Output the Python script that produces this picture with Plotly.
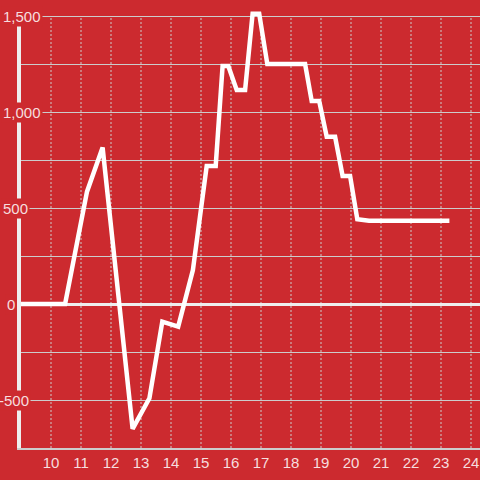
import plotly.graph_objects as go

# series
horas = [9.0, 10.47, 11.2, 11.72, 12.72, 13.28, 13.71, 14.24, 14.73, 15.19, 15.49,
         15.72, 15.91, 16.19, 16.47, 16.72, 16.94, 17.21, 18.47, 18.69, 18.94,
         19.19, 19.47, 19.72, 19.97, 20.21, 20.6, 23.28]
valores = [0, 0, 585, 815, -650, -491, -92, -118, 177, 719, 719,
           1240, 1240, 1115, 1115, 1512, 1512, 1250, 1250, 1057, 1057,
           871, 871, 667, 667, 441, 434, 434]

x_ticks = list(range(10, 25))
y_labels = [-500, 0, 500, 1000, 1500]
y_label_edge = [31, 17, 30, 43, 43]  # right edge of each label, px

VERMELHO = "#cc2a2f"
GRADE = "#cccccc"
TEXTO = "rgba(255,255,255,0.85)"

fig = go.Figure(go.Scatter(
    x=horas, y=valores, mode="lines",
    line=dict(color="white", width=4.5),
    hoverinfo="skip",
))

for t in x_ticks:
    fig.add_shape(type="line", x0=t, x1=t, y0=-750, y1=1500, xref="x", yref="y",
                  line=dict(color=GRADE, width=1, dash="2px,2px"), layer="below")

for v, edge in zip(y_labels, y_label_edge):
    fig.add_annotation(x=(edge - 21) / 459, xref="paper", y=v, yref="y",
                       text=f"{v:,}", showarrow=False, xanchor="right", yanchor="middle",
                       bgcolor=VERMELHO, borderpad=1,
                       font=dict(color=TEXTO, size=15))

fig.update_layout(
    width=480, height=480,
    margin=dict(l=21, r=0, t=8, b=32, autoexpand=False),
    paper_bgcolor=VERMELHO, plot_bgcolor=VERMELHO,
    font=dict(family="Liberation Sans, Arial, sans-serif", size=15, color=TEXTO),
    showlegend=False,
)
fig.update_xaxes(range=[9, 24.3], tickvals=x_ticks, showgrid=False, zeroline=False,
                 showline=True, linecolor=GRADE, linewidth=2, ticks="", automargin=False,
                 fixedrange=True)
fig.update_yaxes(range=[-750, 1541.67], dtick=250, tick0=0, showticklabels=False,
                 showgrid=True, gridcolor=GRADE, gridwidth=1, automargin=False,
                 zeroline=True, zerolinecolor="#eeeeee", zerolinewidth=3,
                 showline=True, linecolor="#eeeeee", linewidth=4, ticks="", fixedrange=True)

# tira a margem padrão do body para o gráfico ocupar a janela inteira
fig.write_html("out.html", config={"displayModeBar": False},
               post_script="document.body.style.margin='0';")
